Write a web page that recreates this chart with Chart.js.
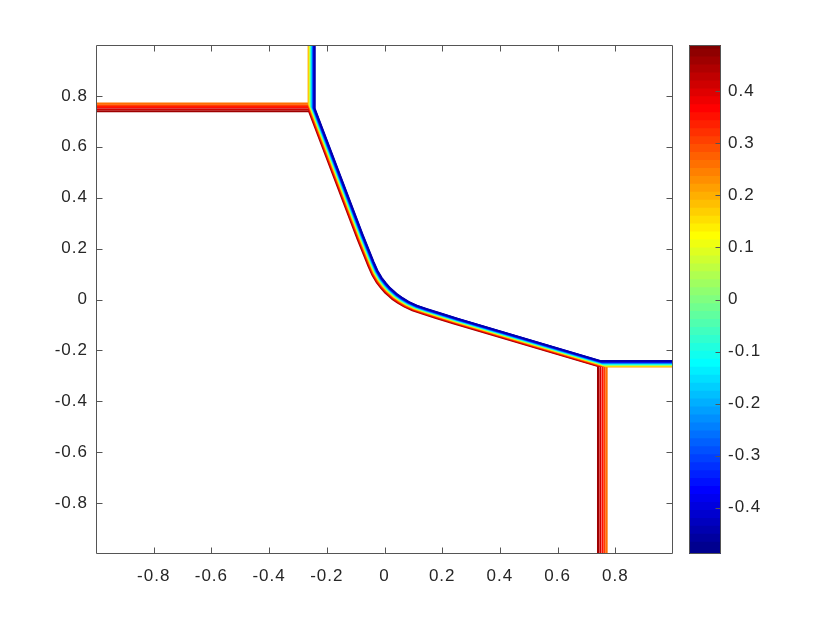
<!DOCTYPE html>
<html>
<head>
<meta charset="utf-8">
<script src="https://cdn.jsdelivr.net/npm/chart.js@4.4.1/dist/chart.umd.min.js"></script>
<style>
  html, body { margin: 0; padding: 0; background: #fff; }
  #wrap { position: relative; width: 830px; height: 623px; }
  #main { position: absolute; left: 0; top: 0; }
  #bar { position: absolute; left: 680px; top: 0; }
</style>
</head>
<body>
<div id="wrap">
  <canvas id="main" width="830" height="623"></canvas>
  <canvas id="bar" width="150" height="623"></canvas>
</div>
<script>
// contour levels and where each one sits
const levels = [-0.45, -0.4, -0.35, -0.3, -0.25, -0.2, -0.15, -0.1, -0.05, 0,
                0.05, 0.1, 0.15, 0.2, 0.25, 0.3, 0.35, 0.4, 0.45];
// levels <= splitLevel: x of the top vertical front (mirrored as y on the right)
// levels >  splitLevel: y of the left horizontal front (mirrored as x at the bottom)
const splitLevel = 0.2;
const edgePos = [-0.242, -0.2435, -0.245, -0.2465, -0.248, -0.2495, -0.251, -0.2525, -0.254, -0.2555,
                 -0.257, -0.2585, -0.2605, -0.263, 0.770, 0.763, 0.756, 0.748, 0.740];
// shift of each level across the curved front
const frontShift = [0.0080, 0.0072, 0.0064, 0.0056, 0.0048, 0.0040, 0.0032, 0.0024, 0.0016, 0.0008,
                    0, -0.0008, -0.0016, -0.0024, -0.0034, -0.0046, -0.0060, -0.0076, -0.0094];
// centre line of the curved front
const frontX = [-0.252, -0.084, -0.062, -0.046, -0.033, -0.018, -0.003, 0.012, 0.024,
                0.036, 0.055, 0.077, 0.106, 0.140, 0.185, 0.247, 0.748];
const frontY = [0.748, 0.247, 0.185, 0.140, 0.106, 0.077, 0.055, 0.036, 0.024,
                0.012, -0.003, -0.018, -0.033, -0.046, -0.062, -0.084, -0.252];

const cMin = -0.489, cMax = 0.489;
const xTicks = [-0.8, -0.6, -0.4, -0.2, 0, 0.2, 0.4, 0.6, 0.8];
const yTicks = [-0.8, -0.6, -0.4, -0.2, 0, 0.2, 0.4, 0.6, 0.8];
const cbTicks = [-0.4, -0.3, -0.2, -0.1, 0, 0.1, 0.2, 0.3, 0.4];

const axisColor = '#555555';
const textColor = '#262626';
Chart.defaults.font.family = '"Liberation Sans", Arial, Helvetica, sans-serif';
Chart.defaults.font.size = 17;
Chart.defaults.color = textColor;

// MATLAB jet(64)
function jet64(i) {
  const c = v => Math.round(255 * Math.max(0, Math.min(1, v)));
  const r = Math.min((i - 24) / 16, (72 - i) / 16);
  const g = Math.min((i - 8) / 16, (56 - i) / 16);
  const b = Math.min((i + 8) / 16, (40 - i) / 16);
  return `rgb(${c(r)},${c(g)},${c(b)})`;
}
function levelColor(v) {
  let i = Math.floor((v - cMin) / (cMax - cMin) * 64) + 1;
  i = Math.max(1, Math.min(64, i));
  return jet64(i);
}

function yAt(p, q, x) { return p.y + (x - p.x) * (q.y - p.y) / (q.x - p.x); }
function xAt(p, q, y) { return p.x + (y - p.y) * (q.x - p.x) / (q.y - p.y); }

function contourPath(k) {
  const s = frontShift[k], e = edgePos[k];
  const pts = frontX.map((x, i) => ({ x: x + s, y: frontY[i] + s }));
  const n = pts.length;
  const a = pts[0], b = pts[1], b2 = pts[n - 2], a2 = pts[n - 1];
  const mid = pts.slice(1, n - 1);
  if (levels[k] <= splitLevel) {
    return [{ x: e, y: 1 }, { x: e, y: yAt(a, b, e) }, ...mid,
            { x: xAt(b2, a2, e), y: e }, { x: 1, y: e }];
  }
  return [{ x: -1, y: e }, { x: xAt(a, b, e), y: e }, ...mid,
          { x: e, y: yAt(b2, a2, e) }, { x: e, y: -1 }];
}

const datasets = levels.map((lv, k) => ({
  data: contourPath(k),
  showLine: true,
  pointRadius: 0,
  borderWidth: 2,
  borderColor: levelColor(lv),
  tension: 0,
  fill: false
}));

const fmt = v => String(Number(Number(v).toFixed(1)));

const spacing = {
  id: 'spacing',
  beforeDraw(chart) { chart.ctx.letterSpacing = '1px'; }
};

const boxTicks = {
  id: 'boxTicks',
  afterDraw(chart) {
    const { ctx, chartArea: a, scales } = chart;
    const L = Math.round(a.left) + 0.5, R = Math.round(a.right) - 0.5;
    const T = Math.round(a.top) + 0.5, B = Math.round(a.bottom) - 0.5;
    const len = 6;
    ctx.save();
    ctx.strokeStyle = axisColor;
    ctx.lineWidth = 1;
    ctx.beginPath();
    ctx.rect(L, T, R - L, B - T);
    scales.x.ticks.forEach(t => {
      const px = Math.round(scales.x.getPixelForValue(t.value)) + 0.5;
      ctx.moveTo(px, B); ctx.lineTo(px, B - len);
      ctx.moveTo(px, T); ctx.lineTo(px, T + len);
    });
    scales.y.ticks.forEach(t => {
      const py = Math.round(scales.y.getPixelForValue(t.value)) + 0.5;
      ctx.moveTo(L, py); ctx.lineTo(L + len, py);
      ctx.moveTo(R, py); ctx.lineTo(R - len, py);
    });
    ctx.stroke();
    ctx.restore();
  }
};

new Chart(document.getElementById('main'), {
  type: 'scatter',
  data: { datasets },
  options: {
    responsive: false,
    animation: false,
    layout: { padding: { left: 0, top: 45, right: 157, bottom: 0 } },
    plugins: { legend: { display: false }, tooltip: { enabled: false } },
    scales: {
      x: {
        type: 'linear', min: -1, max: 1,
        afterBuildTicks: s => { s.ticks = xTicks.map(v => ({ value: v })); },
        afterFit: s => { s.height = 69; },
        ticks: { callback: fmt, padding: 12, maxRotation: 0, autoSkip: false },
        grid: { display: false, drawTicks: false },
        border: { display: false }
      },
      y: {
        type: 'linear', min: -1, max: 1,
        afterBuildTicks: s => { s.ticks = yTicks.map(v => ({ value: v })); },
        afterFit: s => { s.width = 96; },
        ticks: { callback: fmt, padding: 8, autoSkip: false },
        grid: { display: false, drawTicks: false },
        border: { display: false }
      }
    }
  },
  plugins: [spacing, boxTicks]
});

// colorbar
const nBands = 64;
const bandStep = (cMax - cMin) / nBands;
const bandSets = [];
for (let i = 0; i < nBands; i++) {
  const lo = cMin + bandStep * i;
  const hi = lo + bandStep + (i < nBands - 1 ? bandStep * 0.5 : 0);
  bandSets.push({
    data: [[lo, hi]],
    backgroundColor: jet64(i + 1),
    borderWidth: 0,
    grouped: false,
    barPercentage: 1,
    categoryPercentage: 1
  });
}

const barBox = {
  id: 'barBox',
  afterDraw(chart) {
    const { ctx, chartArea: a, scales } = chart;
    const L = Math.round(a.left) + 0.5, R = Math.round(a.right) - 0.5;
    const T = Math.round(a.top) + 0.5, B = Math.round(a.bottom) - 0.5;
    ctx.save();
    ctx.strokeStyle = axisColor;
    ctx.lineWidth = 1;
    ctx.beginPath();
    ctx.rect(L, T, R - L, B - T);
    scales.y.ticks.forEach(t => {
      const py = Math.round(scales.y.getPixelForValue(t.value)) + 0.5;
      ctx.moveTo(R, py); ctx.lineTo(R - 5, py);
    });
    ctx.stroke();
    ctx.restore();
  }
};

new Chart(document.getElementById('bar'), {
  type: 'bar',
  data: { labels: [''], datasets: bandSets },
  options: {
    responsive: false,
    animation: false,
    layout: { padding: { left: 9, top: 45, right: 0, bottom: 69 } },
    plugins: { legend: { display: false }, tooltip: { enabled: false } },
    scales: {
      x: { display: false },
      y: {
        type: 'linear', position: 'right', min: cMin, max: cMax,
        afterBuildTicks: s => { s.ticks = cbTicks.map(v => ({ value: v })); },
        afterFit: s => { s.width = 109; },
        ticks: { callback: fmt, padding: 7, autoSkip: false },
        grid: { display: false, drawTicks: false },
        border: { display: false }
      }
    }
  },
  plugins: [spacing, barBox]
});
</script>
</body>
</html>
